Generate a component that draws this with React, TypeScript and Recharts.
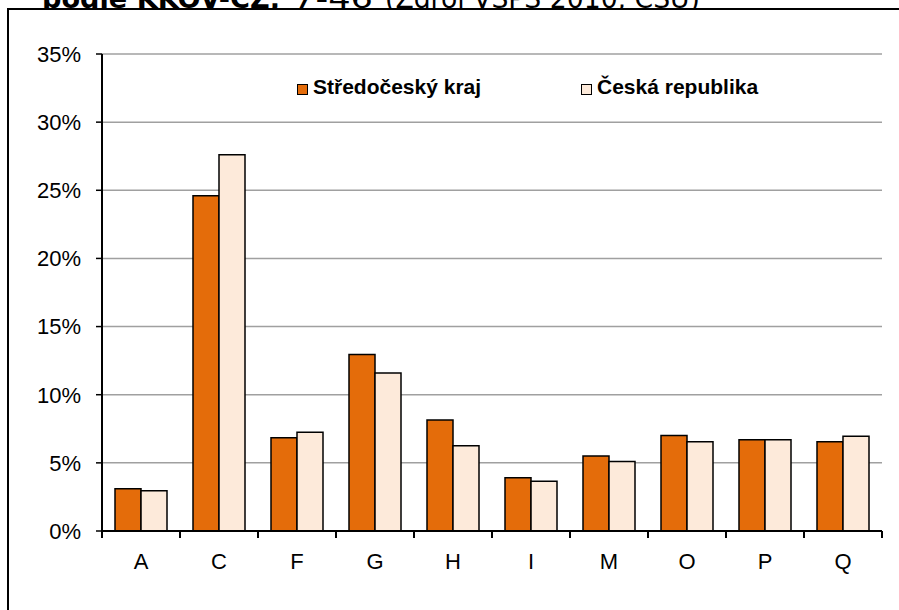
import React from 'react';
import { BarChart, Bar, XAxis, YAxis, CartesianGrid, Legend } from 'recharts';

// share of employed by section (%)
const categories = ['A', 'C', 'F', 'G', 'H', 'I', 'M', 'O', 'P', 'Q'];
const stredocesky = [3.1, 24.6, 6.85, 12.95, 8.15, 3.9, 5.5, 7.0, 6.7, 6.55];
const ceskaRepublika = [2.95, 27.6, 7.25, 11.6, 6.25, 3.65, 5.1, 6.55, 6.7, 6.95];
const yTicks = [0, 5, 10, 15, 20, 25, 30, 35];

const data = categories.map((name, i) => ({
  name,
  kraj: stredocesky[i],
  cr: ceskaRepublika[i],
}));

const ORANGE = '#E46C0A';
const LIGHT = '#FDEADA';
const GRID = '#a0a0a0';
const FONT = '"Liberation Sans", Arial, sans-serif';

const CategoryTick = (props: any) => {
  const { x, y, payload, index } = props;
  const half = payload && payload.offset ? payload.offset : 39;
  return (
    <g>
      <line x1={x - half} x2={x - half} y1={y} y2={y + 7} stroke="#000" strokeWidth={2} />
      {index === categories.length - 1 && (
        <line x1={x + half} x2={x + half} y1={y} y2={y + 7} stroke="#000" strokeWidth={2} />
      )}
      <text x={x} y={y + 22} dy="0.71em" textAnchor="middle" fill="#000" fontSize={22} fontFamily={FONT}>
        {payload.value}
      </text>
    </g>
  );
};

const renderLegend = (props: any) => {
  const { payload } = props;
  return (
    <div style={{ position: 'relative', width: 470, height: 24, fontFamily: FONT }}>
      {(payload || []).map((entry: any, i: number) => (
        <div
          key={entry.value}
          style={{ position: 'absolute', left: i * 284, top: 0, display: 'flex', alignItems: 'flex-end', whiteSpace: 'nowrap' }}
        >
          <span
            style={{
              display: 'inline-block',
              width: 9,
              height: 9,
              background: entry.color,
              border: '1.5px solid #000',
              marginRight: 5,
              marginBottom: 4,
            }}
          />
          <span style={{ fontSize: 21, fontWeight: 'bold', color: '#000', lineHeight: '24px' }}>{entry.value}</span>
        </div>
      ))}
    </div>
  );
};

export default function App() {
  return (
    <div style={{ position: 'absolute', left: 0, top: 0, width: 899, height: 610, overflow: 'hidden', background: '#fff' }}>
      {/* title sits above the frame, only its lower edge shows */}
      <svg width={899} height={40} style={{ position: 'absolute', left: 0, top: 0 }}>
        <text x={42} y={8} fontFamily="DejaVu Sans" fontWeight="bold" fontSize={26} textLength={238} lengthAdjust="spacingAndGlyphs">
          podle KKOV-CZ,
        </text>
        <text x={293} y={8} fontFamily="DejaVu Sans" fontSize={26} textLength={80} lengthAdjust="spacingAndGlyphs">
          7-46
        </text>
        <text x={385} y={8} fontFamily="DejaVu Sans" fontSize={26} textLength={315} lengthAdjust="spacingAndGlyphs">
          (Zdroj VŠPS 2010, ČSÚ)
        </text>
      </svg>
      <div
        style={{
          position: 'absolute',
          left: 7,
          top: 8,
          width: 1000,
          height: 700,
          background: '#fff',
          borderLeft: '2px solid #000',
          borderTop: '2px solid #000',
        }}
      />
      <div style={{ position: 'absolute', left: 0, top: 0 }}>
        <BarChart
          width={899}
          height={610}
          data={data}
          margin={{ top: 54, right: 17, bottom: 0, left: 0 }}
          barCategoryGap={13}
          barGap={0}
        >
          <CartesianGrid vertical={false} stroke={GRID} strokeWidth={1.5} />
          <XAxis
            dataKey="name"
            height={79}
            interval={0}
            tickSize={0}
            tickMargin={0}
            tickLine={false}
            axisLine={{ stroke: '#000', strokeWidth: 2 }}
            tick={<CategoryTick />}
          />
          <YAxis
            width={102}
            domain={[0, 35]}
            ticks={yTicks}
            interval={0}
            tickFormatter={(v: number) => `${v}%`}
            axisLine={{ stroke: '#000', strokeWidth: 2 }}
            tickLine={{ stroke: '#000', strokeWidth: 1.5 }}
            tickSize={6}
            tickMargin={15}
            tick={{ fill: '#000', fontSize: 22, fontFamily: FONT }}
          />
          <YAxis
            yAxisId="right"
            orientation="right"
            width={0}
            domain={[0, 35]}
            tick={false}
            tickLine={false}
            axisLine={{ stroke: GRID, strokeWidth: 1.5 }}
          />
          <Legend
            layout="horizontal"
            verticalAlign="middle"
            align="center"
            content={renderLegend}
            wrapperStyle={{ left: 297, top: 75, width: 470 }}
          />
          <Bar dataKey="kraj" name="Středočeský kraj" fill={ORANGE} stroke="#000" strokeWidth={1.5} isAnimationActive={false} />
          <Bar dataKey="cr" name="Česká republika" fill={LIGHT} stroke="#000" strokeWidth={1.5} isAnimationActive={false} />
        </BarChart>
      </div>
    </div>
  );
}
